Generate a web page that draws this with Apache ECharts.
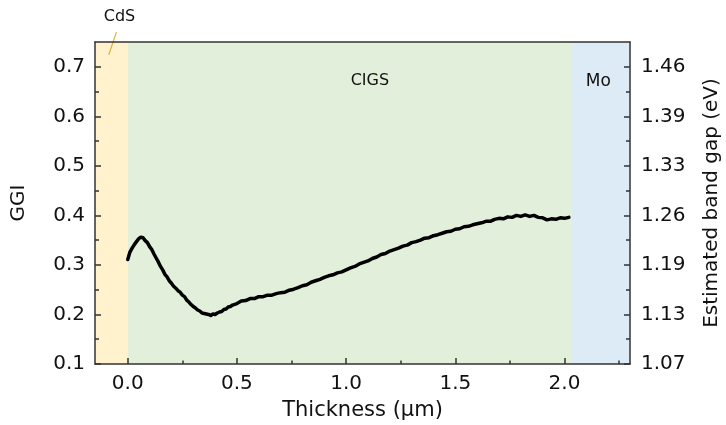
<!DOCTYPE html>
<html>
<head>
<meta charset="utf-8">
<script src="https://cdn.jsdelivr.net/npm/echarts@6/dist/echarts.min.js"></script>
<style>
  html, body { margin: 0; padding: 0; background: #ffffff; }
  #chart { width: 726px; height: 425px; }
</style>
</head>
<body>
<div id="chart"></div>
<script>
// Depth profile of the Ga/(Ga+In) ratio through the absorber stack
const thickness = [
  0.00, 0.01, 0.02, 0.03, 0.04, 0.05, 0.06, 0.07, 0.08, 0.09,
  0.10, 0.11, 0.12, 0.13, 0.14, 0.15, 0.16, 0.17, 0.18, 0.19,
  0.20, 0.21, 0.22, 0.23, 0.24, 0.25, 0.26, 0.27, 0.28, 0.29,
  0.30, 0.31, 0.32, 0.33, 0.34, 0.35, 0.36, 0.37, 0.38, 0.39,
  0.40, 0.41, 0.42, 0.43, 0.44, 0.45, 0.46, 0.47, 0.48, 0.50,
  0.52, 0.54, 0.56, 0.58, 0.60, 0.62, 0.64, 0.66, 0.68, 0.70,
  0.72, 0.74, 0.76, 0.78, 0.80, 0.82, 0.84, 0.86, 0.88, 0.90,
  0.92, 0.94, 0.96, 0.98, 1.00, 1.02, 1.04, 1.06, 1.08, 1.10,
  1.12, 1.14, 1.16, 1.18, 1.20, 1.22, 1.24, 1.26, 1.28, 1.30,
  1.32, 1.34, 1.36, 1.38, 1.40, 1.42, 1.44, 1.46, 1.48, 1.50,
  1.52, 1.54, 1.56, 1.58, 1.60, 1.62, 1.64, 1.66, 1.68, 1.70,
  1.72, 1.74, 1.76, 1.78, 1.80, 1.82, 1.84, 1.86, 1.88, 1.90,
  1.92, 1.94, 1.96, 1.98, 2.00, 2.02
];
const ggi = [
  0.311, 0.326, 0.334, 0.341, 0.347, 0.353, 0.356, 0.355, 0.349, 0.345,
  0.337, 0.331, 0.322, 0.314, 0.306, 0.297, 0.290, 0.281, 0.276, 0.268,
  0.263, 0.257, 0.253, 0.248, 0.245, 0.239, 0.236, 0.229, 0.225, 0.220,
  0.216, 0.213, 0.209, 0.207, 0.203, 0.202, 0.201, 0.200, 0.198, 0.201,
  0.200, 0.203, 0.205, 0.206, 0.210, 0.211, 0.215, 0.216, 0.219, 0.222,
  0.227, 0.228, 0.232, 0.232, 0.236, 0.236, 0.239, 0.239, 0.242, 0.244,
  0.245, 0.249, 0.251, 0.254, 0.258, 0.260, 0.265, 0.268, 0.271, 0.275,
  0.278, 0.280, 0.284, 0.286, 0.290, 0.294, 0.297, 0.302, 0.305, 0.308,
  0.313, 0.316, 0.321, 0.323, 0.328, 0.331, 0.334, 0.338, 0.340, 0.345,
  0.347, 0.350, 0.354, 0.355, 0.359, 0.361, 0.364, 0.367, 0.368, 0.372,
  0.373, 0.377, 0.378, 0.381, 0.383, 0.385, 0.388, 0.388, 0.392, 0.394,
  0.393, 0.397, 0.396, 0.400, 0.398, 0.401, 0.398, 0.400, 0.396, 0.395,
  0.391, 0.393, 0.392, 0.395, 0.394, 0.396
];

// Layer boundaries along the thickness axis
const layerNames = ['CdS', 'CIGS', 'Mo'];
const layerStart = [-0.15, 0.0, 2.034];
const layerEnd = [0.0, 2.034, 2.30];
const layerColors = ['#fff2cc', '#e2efda', '#ddebf7'];

// Axis ticks
const xTicks = [0, 0.5, 1.0, 1.5, 2.0];
const xMinorTicks = [0.25, 0.75, 1.25, 1.75, 2.25];
const yTicks = [0.1, 0.2, 0.3, 0.4, 0.5, 0.6, 0.7];
const yMinorTicks = [0.15, 0.25, 0.35, 0.45, 0.55, 0.65];
const bandGapLabels = ['1.07', '1.13', '1.19', '1.26', '1.33', '1.39', '1.46'];

const FONT = 'DejaVu Sans';
const frameColor = '#333333';

const chart = echarts.init(document.getElementById('chart'), null, { renderer: 'canvas' });

const baseX = { type: 'value', min: -0.15, max: 2.3, splitLine: { show: false }, z: 10 };
const baseY = { type: 'value', min: 0.1, max: 0.75, splitLine: { show: false }, z: 10 };

function tickOf(values, len) {
  return { show: true, inside: true, length: len, customValues: values,
           lineStyle: { color: frameColor, width: 1.5 } };
}

const option = {
  animation: false,
  backgroundColor: '#ffffff',
  grid: { left: 95, right: 96, top: 42, bottom: 61, outerBoundsMode: 'none', containLabel: false },
  xAxis: [
    Object.assign({}, baseX, {
      position: 'bottom',
      axisLine: { show: true, onZero: false, lineStyle: { color: frameColor, width: 1.5 } },
      axisTick: tickOf(xTicks, 6),
      axisLabel: { customValues: xTicks, margin: 10, color: '#111', fontFamily: FONT, fontSize: 20,
                   formatter: v => v.toFixed(1) },
      name: 'Thickness (µm)', nameLocation: 'middle', nameGap: 36,
      nameTextStyle: { color: '#111', fontFamily: FONT, fontSize: 21 }
    }),
    Object.assign({}, baseX, {
      position: 'bottom',
      axisLine: { show: false, onZero: false },
      axisTick: tickOf(xMinorTicks, 3.5),
      axisLabel: { show: false }
    }),
    Object.assign({}, baseX, {
      position: 'top',
      axisLine: { show: true, onZero: false, lineStyle: { color: frameColor, width: 1.5 } },
      axisTick: { show: false },
      axisLabel: { show: false }
    })
  ],
  yAxis: [
    Object.assign({}, baseY, {
      position: 'left',
      axisLine: { show: true, onZero: false, lineStyle: { color: frameColor, width: 1.5 } },
      axisTick: tickOf(yTicks, 6),
      axisLabel: { customValues: yTicks, margin: 10, color: '#111', fontFamily: FONT, fontSize: 20,
                   formatter: v => v.toFixed(1) },
      name: 'GGI', nameLocation: 'middle', nameGap: 66,
      nameTextStyle: { color: '#111', fontFamily: FONT, fontSize: 20 }
    }),
    Object.assign({}, baseY, {
      position: 'left',
      axisLine: { show: false, onZero: false },
      axisTick: tickOf(yMinorTicks, 4),
      axisLabel: { show: false }
    }),
    Object.assign({}, baseY, {
      position: 'right',
      axisLine: { show: true, onZero: false, lineStyle: { color: frameColor, width: 1.5 } },
      axisTick: tickOf(yTicks, 6),
      axisLabel: { customValues: yTicks, margin: 11, color: '#111', fontFamily: FONT, fontSize: 20,
                   formatter: v => bandGapLabels[Math.round((v - 0.1) * 10)] },
      name: 'Estimated band gap (eV)', nameLocation: 'middle', nameGap: 72,
      nameTextStyle: { color: '#111', fontFamily: FONT, fontSize: 20 }
    }),
    Object.assign({}, baseY, {
      position: 'right',
      axisLine: { show: false, onZero: false },
      axisTick: tickOf(yMinorTicks, 4),
      axisLabel: { show: false }
    })
  ],
  series: [{
    type: 'line',
    xAxisIndex: 0,
    yAxisIndex: 0,
    data: thickness.map((t, i) => [t, ggi[i]]),
    showSymbol: false,
    smooth: false,
    lineStyle: { color: '#000000', width: 3.5, join: 'round', cap: 'round' },
    markArea: {
      silent: true,
      label: { show: false },
      data: layerNames.map((n, i) => [
        { name: n, xAxis: layerStart[i], itemStyle: { color: layerColors[i], opacity: 1 } },
        { xAxis: layerEnd[i] }
      ])
    },
    z: 3
  }]
};

chart.setOption(option);

// Layer captions, placed in data coordinates
function px(x, y) { return chart.convertToPixel({ xAxisIndex: 0, yAxisIndex: 0 }, [x, y]); }
const pCIGS = px(1.109, 0.671);
const pMo = px(2.155, 0.671);
const pCdS = px(-0.038, 0.800);
const leadA = px(-0.052, 0.770);
const leadB = px(-0.087, 0.724);

chart.setOption({
  graphic: [
    { type: 'text', x: pCIGS[0], y: pCIGS[1], z: 10,
      style: { text: 'CIGS', fill: '#111', font: '16px "DejaVu Sans"', align: 'center', verticalAlign: 'middle' } },
    { type: 'text', x: pMo[0], y: pMo[1], z: 10,
      style: { text: 'Mo', fill: '#111', font: '17px "DejaVu Sans"', align: 'center', verticalAlign: 'middle' } },
    { type: 'text', x: pCdS[0], y: pCdS[1], z: 10,
      style: { text: 'CdS', fill: '#111', font: '16px "DejaVu Sans"', align: 'center', verticalAlign: 'middle' } },
    { type: 'line', z: 10,
      shape: { x1: leadA[0], y1: leadA[1], x2: leadB[0], y2: leadB[1] },
      style: { stroke: '#d9b23c', lineWidth: 1.2 } }
  ]
});
</script>
</body>
</html>
